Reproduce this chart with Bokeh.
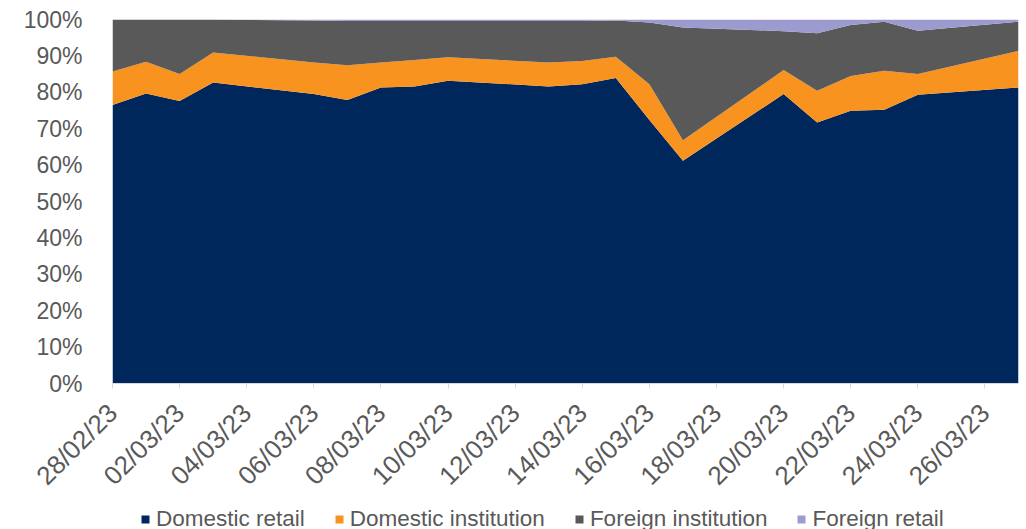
import pandas as pd
from math import pi
from bokeh.plotting import figure
from bokeh.layouts import column
from bokeh.models import ColumnDataSource, Range1d, FixedTicker, DatetimeTickFormatter, NumeralTickFormatter, Legend
from bokeh.embed import file_html
from bokeh.resources import INLINE

dates = ["2023-02-28", "2023-03-01", "2023-03-02", "2023-03-03", "2023-03-06", "2023-03-07",
         "2023-03-08", "2023-03-09", "2023-03-10", "2023-03-13", "2023-03-14", "2023-03-15",
         "2023-03-16", "2023-03-17", "2023-03-20", "2023-03-21", "2023-03-22", "2023-03-23",
         "2023-03-24", "2023-03-27"]
domestic_retail = [76.5, 79.7, 77.6, 82.7, 79.5, 77.9, 81.3, 81.6, 83.2, 81.6, 82.2, 83.9,
                   72.4, 61.2, 79.5, 71.7, 74.9, 75.2, 79.3, 81.3]
domestic_institution = [9.2, 8.7, 7.4, 8.2, 8.7, 9.5, 6.9, 7.3, 6.4, 6.6, 6.4, 5.9,
                        9.8, 5.6, 6.6, 8.7, 9.6, 10.7, 5.7, 10.1]
foreign_institution = [14.3, 11.6, 15.0, 9.1, 11.5, 12.2, 11.4, 10.7, 10.0, 11.4, 11.0, 9.9,
                       17.0, 31.0, 10.7, 15.8, 14.0, 13.5, 11.9, 8.0]
foreign_retail = [0.0, 0.0, 0.0, 0.0, 0.3, 0.4, 0.4, 0.4, 0.4, 0.4, 0.4, 0.3,
                  0.8, 2.2, 3.2, 3.8, 1.5, 0.6, 3.1, 0.6]
tick_dates = ["2023-02-28", "2023-03-02", "2023-03-04", "2023-03-06", "2023-03-08", "2023-03-10",
              "2023-03-12", "2023-03-14", "2023-03-16", "2023-03-18", "2023-03-20", "2023-03-22",
              "2023-03-24", "2023-03-26"]
series_names = ["Domestic retail", "Domestic institution", "Foreign institution", "Foreign retail"]
colors = ["#00275C", "#F7931E", "#595959", "#9B9BD0"]

x = pd.to_datetime(dates)
total = [a + b + c + d for a, b, c, d in zip(domestic_retail, domestic_institution, foreign_institution, foreign_retail)]
src = ColumnDataSource(dict(
    date=x,
    dr=[v / t for v, t in zip(domestic_retail, total)],
    di=[v / t for v, t in zip(domestic_institution, total)],
    fi=[v / t for v, t in zip(foreign_institution, total)],
    fr=[v / t for v, t in zip(foreign_retail, total)],
))

font = "Liberation Sans"
txt = "#595959"

p = figure(width=1026, height=507, x_axis_type="datetime", output_backend="svg", toolbar_location=None,
           min_border_left=112, min_border_right=8, min_border_top=19, min_border_bottom=124)
p.x_range = Range1d(x[0], x[-1])
p.y_range = Range1d(0, 1)

p.varea_stack(["dr", "di", "fi", "fr"], x="date", color=colors, source=src)

p.xaxis.ticker = FixedTicker(ticks=[pd.Timestamp(d).value / 1e6 for d in tick_dates])
p.xaxis.formatter = DatetimeTickFormatter(days="%d/%m/%y", months="%d/%m/%y", hours="%d/%m/%y")
p.xaxis.major_label_orientation = pi / 4
p.xaxis.major_label_text_font = font
p.xaxis.major_label_text_font_size = "26px"
p.xaxis.major_label_text_color = txt
p.xaxis.axis_line_color = "#D9D9D9"
p.xaxis.major_tick_line_color = "#D9D9D9"
p.xaxis.major_tick_out = 5
p.xaxis.major_tick_in = 0
p.xaxis.minor_tick_line_color = None
p.xaxis.major_label_standoff = 20

p.yaxis.ticker = FixedTicker(ticks=[i / 10 for i in range(11)])
p.yaxis.formatter = NumeralTickFormatter(format="0%")
p.yaxis.major_label_text_font = font
p.yaxis.major_label_text_font_size = "23px"
p.yaxis.major_label_text_color = txt
p.yaxis.axis_line_color = None
p.yaxis.major_tick_line_color = None
p.yaxis.minor_tick_line_color = None
p.yaxis.major_label_standoff = 24

p.xgrid.grid_line_color = None
p.ygrid.grid_line_color = None
p.outline_line_color = None

# legend strip
lg = figure(width=1026, height=22, output_backend="svg", toolbar_location=None,
            x_axis_location=None, y_axis_location=None,
            min_border_left=0, min_border_right=0, min_border_top=0, min_border_bottom=0)
lg.x_range = Range1d(0, 1)
lg.y_range = Range1d(0, 1)
lg.xgrid.grid_line_color = None
lg.ygrid.grid_line_color = None
lg.outline_line_color = None
dummies = [lg.varea(x=[-3, -2], y1=[0, 0], y2=[1, 1], color=c) for c in colors]
legend = Legend(items=[(n, [r]) for n, r in zip(series_names, dummies)],
                orientation="horizontal", location=(28, -3),
                glyph_width=10, glyph_height=10, label_standoff=6, spacing=29,
                label_text_font=font, label_text_font_size="22.5px", label_text_color=txt,
                label_height=22, padding=0, margin=0,
                background_fill_alpha=0, border_line_color=None)
lg.add_layout(legend, "center")

layout = column(p, lg, spacing=0)
open("out.html", "w").write(file_html(layout, INLINE))
